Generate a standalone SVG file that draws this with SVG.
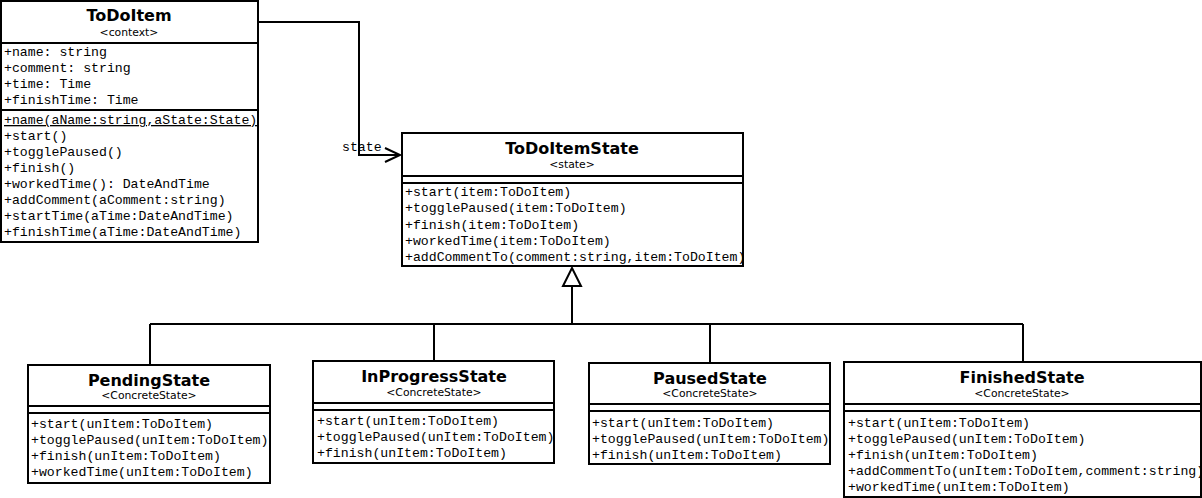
<svg xmlns="http://www.w3.org/2000/svg" width="1202" height="498" viewBox="0 0 1202 498">
<style>
.box{fill:#fff;stroke:#000;stroke-width:2}
.sep{stroke:#000;stroke-width:2}
.title{font-family:"DejaVu Sans",sans-serif;font-weight:bold;font-size:16px;text-anchor:middle;fill:#000}
.st{font-family:"DejaVu Sans",sans-serif;font-size:10.8px;text-anchor:middle;fill:#000}
.m{font-family:"Liberation Mono",monospace;font-size:13.2px;fill:#000}
.ln{fill:none;stroke:#000;stroke-width:2}
</style>
<rect width="1202" height="498" fill="#fff"/>
<g id="connectors">
<path class="ln" d="M258,22 H359 V155 H400"/>
<path class="ln" d="M385,148 L400,155 L385,162"/>
<text class="m" x="342" y="151">state</text>
<path class="ln" d="M572,286 V324 M150,324 H1023 M150,324 V365 M434,324 V361 M710,324 V363 M1023,324 V362"/>
<polygon points="572,268 563,286 581,286" fill="#fff" stroke="#000" stroke-width="2"/>
</g>
<g id="ToDoItem">
<rect class="box" x="1" y="1" width="257" height="241"/>
<line class="sep" x1="1" y1="43" x2="258" y2="43"/>
<line class="sep" x1="1" y1="110" x2="258" y2="110"/>
<text class="title" x="129" y="21">ToDoItem</text>
<text class="st" x="129" y="36">&lt;context&gt;</text>
<text class="m" x="4" y="56">+name: string</text>
<text class="m" x="4" y="72">+comment: string</text>
<text class="m" x="4" y="88">+time: Time</text>
<text class="m" x="4" y="104">+finishTime: Time</text>
<text class="m" x="4" y="124" text-decoration="underline">+name(aName:string,aState:State)</text>
<text class="m" x="4" y="140">+start()</text>
<text class="m" x="4" y="156">+togglePaused()</text>
<text class="m" x="4" y="172">+finish()</text>
<text class="m" x="4" y="188">+workedTime(): DateAndTime</text>
<text class="m" x="4" y="204">+addComment(aComment:string)</text>
<text class="m" x="4" y="220">+startTime(aTime:DateAndTime)</text>
<text class="m" x="4" y="236">+finishTime(aTime:DateAndTime)</text>
</g>
<g id="ToDoItemState">
<rect class="box" x="402" y="133" width="341" height="133"/>
<line class="sep" x1="402" y1="176" x2="743" y2="176"/>
<line class="sep" x1="402" y1="183" x2="743" y2="183"/>
<text class="title" x="572" y="154">ToDoItemState</text>
<text class="st" x="572" y="168">&lt;state&gt;</text>
<text class="m" x="405" y="196">+start(item:ToDoItem)</text>
<text class="m" x="405" y="212">+togglePaused(item:ToDoItem)</text>
<text class="m" x="405" y="229">+finish(item:ToDoItem)</text>
<text class="m" x="405" y="245">+workedTime(item:ToDoItem)</text>
<text class="m" x="405" y="261">+addCommentTo(comment:string,item:ToDoItem)</text>
</g>
<g id="PendingState">
<rect class="box" x="28" y="365" width="242" height="118"/>
<line class="sep" x1="28" y1="406" x2="270" y2="406"/>
<line class="sep" x1="28" y1="413" x2="270" y2="413"/>
<text class="title" x="149" y="386">PendingState</text>
<text class="st" x="149" y="399">&lt;ConcreteState&gt;</text>
<text class="m" x="31" y="428">+start(unItem:ToDoItem)</text>
<text class="m" x="31" y="444">+togglePaused(unItem:ToDoItem)</text>
<text class="m" x="31" y="460">+finish(unItem:ToDoItem)</text>
<text class="m" x="31" y="476">+workedTime(unItem:ToDoItem)</text>
</g>
<g id="InProgressState">
<rect class="box" x="313" y="361" width="241" height="102"/>
<line class="sep" x1="313" y1="403" x2="554" y2="403"/>
<line class="sep" x1="313" y1="410" x2="554" y2="410"/>
<text class="title" x="434" y="382">InProgressState</text>
<text class="st" x="434" y="396">&lt;ConcreteState&gt;</text>
<text class="m" x="317" y="425">+start(unItem:ToDoItem)</text>
<text class="m" x="317" y="441">+togglePaused(unItem:ToDoItem)</text>
<text class="m" x="317" y="457">+finish(unItem:ToDoItem)</text>
</g>
<g id="PausedState">
<rect class="box" x="589" y="363" width="241" height="101"/>
<line class="sep" x1="589" y1="404" x2="830" y2="404"/>
<line class="sep" x1="589" y1="411" x2="830" y2="411"/>
<text class="title" x="710" y="384">PausedState</text>
<text class="st" x="710" y="397">&lt;ConcreteState&gt;</text>
<text class="m" x="592" y="427">+start(unItem:ToDoItem)</text>
<text class="m" x="592" y="443">+togglePaused(unItem:ToDoItem)</text>
<text class="m" x="592" y="459">+finish(unItem:ToDoItem)</text>
</g>
<g id="FinishedState">
<rect class="box" x="844" y="362" width="357" height="135"/>
<line class="sep" x1="844" y1="404" x2="1201" y2="404"/>
<line class="sep" x1="844" y1="411" x2="1201" y2="411"/>
<text class="title" x="1022" y="383">FinishedState</text>
<text class="st" x="1022" y="397">&lt;ConcreteState&gt;</text>
<text class="m" x="848" y="427">+start(unItem:ToDoItem)</text>
<text class="m" x="848" y="443">+togglePaused(unItem:ToDoItem)</text>
<text class="m" x="848" y="459">+finish(unItem:ToDoItem)</text>
<text class="m" x="848" y="475">+addCommentTo(unItem:ToDoItem,comment:string)</text>
<text class="m" x="848" y="491">+workedTime(unItem:ToDoItem)</text>
</g>
</svg>
